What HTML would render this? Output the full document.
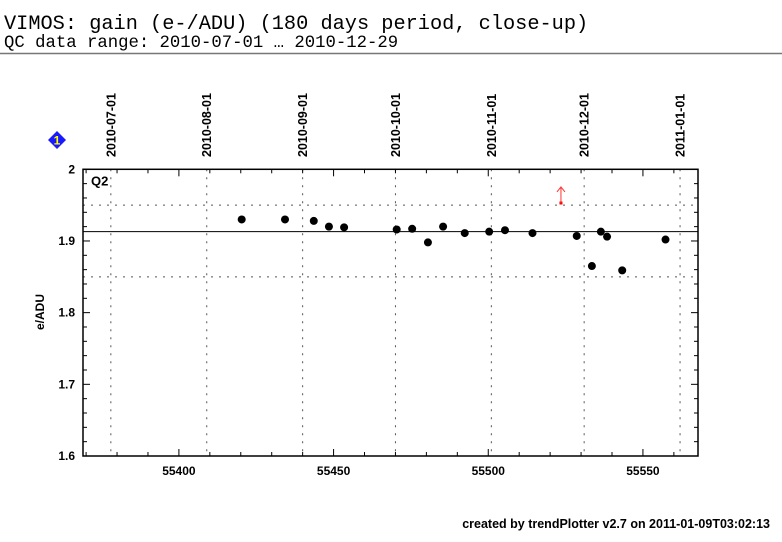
<!DOCTYPE html>
<html><head><meta charset="utf-8"><style>
body{margin:0;background:#fff;width:782px;height:542px;overflow:hidden}
svg{display:block}
</style></head><body>
<svg id="chart" width="782" height="542" xmlns="http://www.w3.org/2000/svg" font-family="Liberation Sans, sans-serif">
<text x="4" y="29" font-family="Liberation Mono, monospace" font-size="20.3">VIMOS: gain (e-/ADU) (180 days period, close-up)</text>
<text x="4" y="47" font-family="Liberation Mono, monospace" font-size="17.3">QC data range: 2010-07-01 … 2010-12-29</text>
<line x1="0" y1="53.5" x2="782" y2="53.5" stroke="#777" stroke-width="1.5"/>
<g><polygon points="57,131 66,140 57,149 48,140" fill="#1a1aff"/><text x="57" y="144.5" font-size="12" font-weight="bold" fill="#ff0" text-anchor="middle">1</text></g>
<text transform="translate(44,312) rotate(-90)" font-size="12" font-weight="bold" text-anchor="middle">e/ADU</text>
<text x="770" y="528" font-size="12.5" font-weight="bold" text-anchor="end">created by trendPlotter v2.7 on 2011-01-09T03:02:13</text>
<g id="plot"></g>
</svg>
<script>
const xTicks=[55400,55450,55500,55550];
const yTicks=[1.6,1.7,1.8,1.9,2];
const dateLabels=["2010-07-01","2010-08-01","2010-09-01","2010-10-01","2010-11-01","2010-12-01","2011-01-01"];
const dateMjd=[55378,55409,55440,55470,55501,55531,55562];
const mjd=[55420.3,55434.3,55443.6,55448.5,55453.4,55470.4,55475.4,55480.5,55485.4,55492.4,55500.3,55505.4,55514.3,55528.6,55533.5,55536.4,55538.4,55543.3,55557.3];
const gain=[1.930,1.930,1.928,1.920,1.919,1.916,1.917,1.898,1.920,1.911,1.913,1.915,1.911,1.907,1.865,1.913,1.906,1.859,1.902];
const outlierMjd=[55523.5];
const outlierGain=[1.953];
const meanValue=[1.913];
const limitValues=[1.95,1.85];
const panelLabel=["Q2"];

const X0=83,X1=698,Y0=169.3,Y1=456;
const xMin=55369,xMax=55567.8,yMin=1.6,yMax=2.0;
const sx=v=>X0+(v-xMin)/(xMax-xMin)*(X1-X0);
const sy=v=>Y1-(v-yMin)/(yMax-yMin)*(Y1-Y0);
const NS="http://www.w3.org/2000/svg";
const g=document.getElementById('plot');
function mk(t,a,p){const e=document.createElementNS(NS,t);for(const k in a)e.setAttribute(k,a[k]);(p||g).appendChild(e);return e;}

dateMjd.forEach((m,i)=>{
  const x=sx(m);
  const l=mk('line',{x1:x,y1:Y0,x2:x,y2:Y1,stroke:'#555','stroke-dasharray':'2,6'});
  
  
  const t=mk('text',{transform:`translate(${x+4.5},157) rotate(-90)`,'font-size':'12.5','font-weight':'bold'});
  t.textContent=dateLabels[i];
  
  
});
limitValues.forEach(v=>{
  const l=mk('line',{x1:X0,y1:sy(v),x2:X1,y2:sy(v),stroke:'#555','stroke-dasharray':'2,6'});
  
  
});
meanValue.forEach(v=>{
  const l=mk('line',{x1:X0,y1:sy(v),x2:X1,y2:sy(v),stroke:'#000','stroke-width':'1'});
  
  
});
const fr=mk('rect',{x:X0,y:Y0,width:X1-X0,height:Y1-Y0,fill:'none',stroke:'#000','stroke-width':'1.5'});


for(let m=55370;m<=xMax;m+=10){
  const x=sx(m),len=(m%50===0)?7:4;
  mk('line',{x1:x,y1:Y1,x2:x,y2:Y1-len,stroke:'#000'});
  mk('line',{x1:x,y1:Y0,x2:x,y2:Y0+len,stroke:'#000'});
}
xTicks.forEach(v=>{
  const t=mk('text',{x:sx(v),y:Y1+19,'font-size':'12','font-weight':'bold','text-anchor':'middle'});
  t.textContent=v;
  
  
});
for(let k=0;k<=20;k++){
  const v=yMin+k*0.02,y=sy(v),len=(k%5===0)?7:4;
  mk('line',{x1:X0,y1:y,x2:X0+len,y2:y,stroke:'#000'});
  mk('line',{x1:X1,y1:y,x2:X1-len,y2:y,stroke:'#000'});
}
yTicks.forEach(v=>{
  const t=mk('text',{x:X0-8,y:sy(v)+4,'font-size':'12','font-weight':'bold','text-anchor':'end'});
  t.textContent=String(v);
  
  
});
const pl=mk('text',{x:X0+8,y:Y0+16,'font-size':'13','font-weight':'bold'});
pl.textContent=panelLabel[0];


mjd.forEach((m,i)=>{
  const c=mk('circle',{cx:sx(m),cy:sy(gain[i]),r:4,fill:'#000'});
  
  
});
outlierMjd.forEach((m,i)=>{
  const x=sx(m),y=sy(outlierGain[i]);
  const og=mk('g',{});
  
  
  mk('rect',{x:x-1.5,y:y-1.5,width:3,height:3,fill:'#f00'},og);
  mk('path',{d:`M${x},${y} L${x},${y-16} M${x-4},${y-11} L${x},${y-16} L${x+4},${y-11}`,stroke:'#f33',fill:'none','stroke-width':'1'},og);
});
</script>
</body></html>
